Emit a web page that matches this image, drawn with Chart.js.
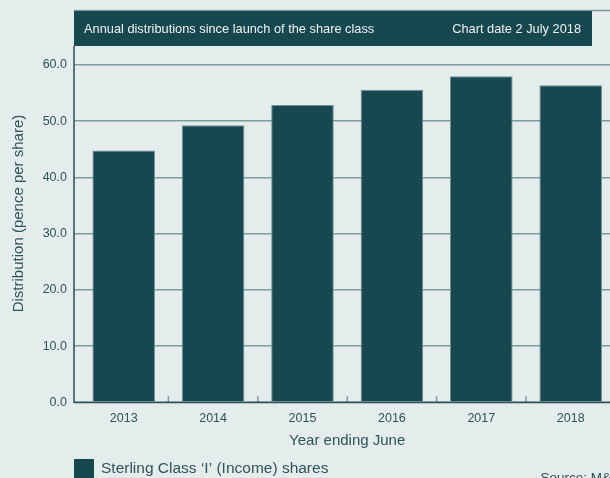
<!DOCTYPE html>
<html>
<head>
<meta charset="utf-8">
<script src="https://cdn.jsdelivr.net/npm/chart.js@4.4.1/dist/chart.umd.min.js"></script>
<style>
    html, body { margin: 0; padding: 0; overflow: hidden; background: #e5ecec; }
</style>
</head>
<body>
<canvas id="graficoDistribuicoes" width="620" height="478"></canvas>
<script>
const years = ['2013', '2014', '2015', '2016', '2017', '2018'];
const distributions = [44.8, 49.3, 52.9, 55.6, 58.0, 56.4];
const yTickValues = [0, 10, 20, 30, 40, 50, 60];

const seriesLabel = 'Sterling Class \u2018I\u2019 (Income) shares';
const headerLeft = 'Annual distributions since launch of the share class';
const headerRight = 'Chart date 2 July 2018';
const yTitle = 'Distribution (pence per share)';
const sourceText = 'Source: M&G';

const corFundo = '#e5ecec';
const corBarra = '#17474f';
const corGrade = '#7d9ca0';
const corEixo = '#2a5257';
const corTexto = '#2e5358';
const fonte = "'Liberation Sans', Arial, sans-serif";

Chart.defaults.font.family = fonte;

// header band, axis lines, inner x ticks, y title, legend and source
const molduraPlugin = {
    id: 'moldura',
    beforeDraw(chart) {
        const { ctx, width, height } = chart;
        ctx.save();
        ctx.fillStyle = corFundo;
        ctx.fillRect(0, 0, width, height);
        ctx.restore();
    },
    afterDatasetsDraw(chart) {
        const { ctx, chartArea, width } = chart;
        const x = chart.scales.x;
        const eixoX = chartArea.left - 5;

        ctx.save();

        // top rule and header band
        ctx.strokeStyle = corGrade;
        ctx.lineWidth = 1.5;
        ctx.beginPath();
        ctx.moveTo(eixoX, 10.5);
        ctx.lineTo(width, 10.5);
        ctx.stroke();

        ctx.fillStyle = corBarra;
        ctx.fillRect(eixoX, 11, 518, 35);
        ctx.fillStyle = '#eef3f3';
        ctx.font = `12.8px ${fonte}`;
        ctx.textBaseline = 'middle';
        ctx.textAlign = 'left';
        ctx.fillText(headerLeft, eixoX + 10, 29);
        ctx.textAlign = 'right';
        ctx.fillText(headerRight, eixoX + 507, 29);

        // small ticks between categories, pointing up from the base line
        ctx.strokeStyle = corGrade;
        ctx.lineWidth = 1.5;
        for (let i = 0; i < years.length - 1; i++) {
            const px = (x.getPixelForTick(i) + x.getPixelForTick(i + 1)) / 2;
            ctx.beginPath();
            ctx.moveTo(px, chartArea.bottom);
            ctx.lineTo(px, chartArea.bottom - 6);
            ctx.stroke();
        }

        // axis lines
        ctx.strokeStyle = corEixo;
        ctx.lineWidth = 1.5;
        ctx.beginPath();
        ctx.moveTo(eixoX, 46);
        ctx.lineTo(eixoX, chartArea.bottom);
        ctx.lineTo(width, chartArea.bottom);
        ctx.stroke();

        // y title
        ctx.save();
        ctx.translate(19, 213.5);
        ctx.rotate(-Math.PI / 2);
        ctx.fillStyle = corTexto;
        ctx.font = `15px ${fonte}`;
        ctx.textAlign = 'center';
        ctx.textBaseline = 'middle';
        ctx.fillText(yTitle, 0, 0);
        ctx.restore();

        // legend
        const ds = chart.data.datasets[0];
        ctx.fillStyle = ds.backgroundColor;
        ctx.fillRect(eixoX, 459, 20, 20);
        ctx.fillStyle = corTexto;
        ctx.font = `15.5px ${fonte}`;
        ctx.textAlign = 'left';
        ctx.textBaseline = 'middle';
        ctx.fillText(ds.label, eixoX + 27, 468.5);

        // source note
        ctx.font = `13.5px ${fonte}`;
        ctx.textBaseline = 'alphabetic';
        ctx.fillText(sourceText, 540.5, 482);

        ctx.restore();
    }
};

const ctx = document.getElementById('graficoDistribuicoes').getContext('2d');

new Chart(ctx, {
    type: 'bar',
    data: {
        labels: years,
        datasets: [{
            label: seriesLabel,
            data: distributions,
            backgroundColor: corBarra,
            borderColor: '#6e9195',
            borderWidth: 1,
            barPercentage: 0.7,
            categoryPercentage: 1
        }]
    },
    options: {
        responsive: false,
        animation: false,
        layout: { padding: { top: 65, right: 4.6, bottom: 28, left: 0 } },
        plugins: {
            legend: { display: false },
            tooltip: { enabled: false }
        },
        scales: {
            x: {
                offset: true,
                grid: { display: false },
                border: { display: false },
                ticks: { color: corTexto, font: { size: 12.5 }, padding: 1 },
                title: {
                    display: true,
                    text: 'Year ending June',
                    color: corTexto,
                    font: { size: 15 },
                    padding: { top: 0, bottom: 0 }
                },
                afterFit: s => { s.height = 47.7; }
            },
            y: {
                min: 0,
                max: 60,
                afterBuildTicks: s => { s.ticks = yTickValues.map(v => ({ value: v })); },
                grid: { color: corGrade, lineWidth: 1.5, tickLength: 5 },
                border: { display: false },
                ticks: {
                    color: corTexto,
                    font: { size: 12.5 },
                    padding: 7,
                    callback: v => v.toFixed(1)
                },
                afterFit: s => { s.width = 79; }
            }
        }
    },
    plugins: [molduraPlugin]
});
</script>
</body>
</html>
